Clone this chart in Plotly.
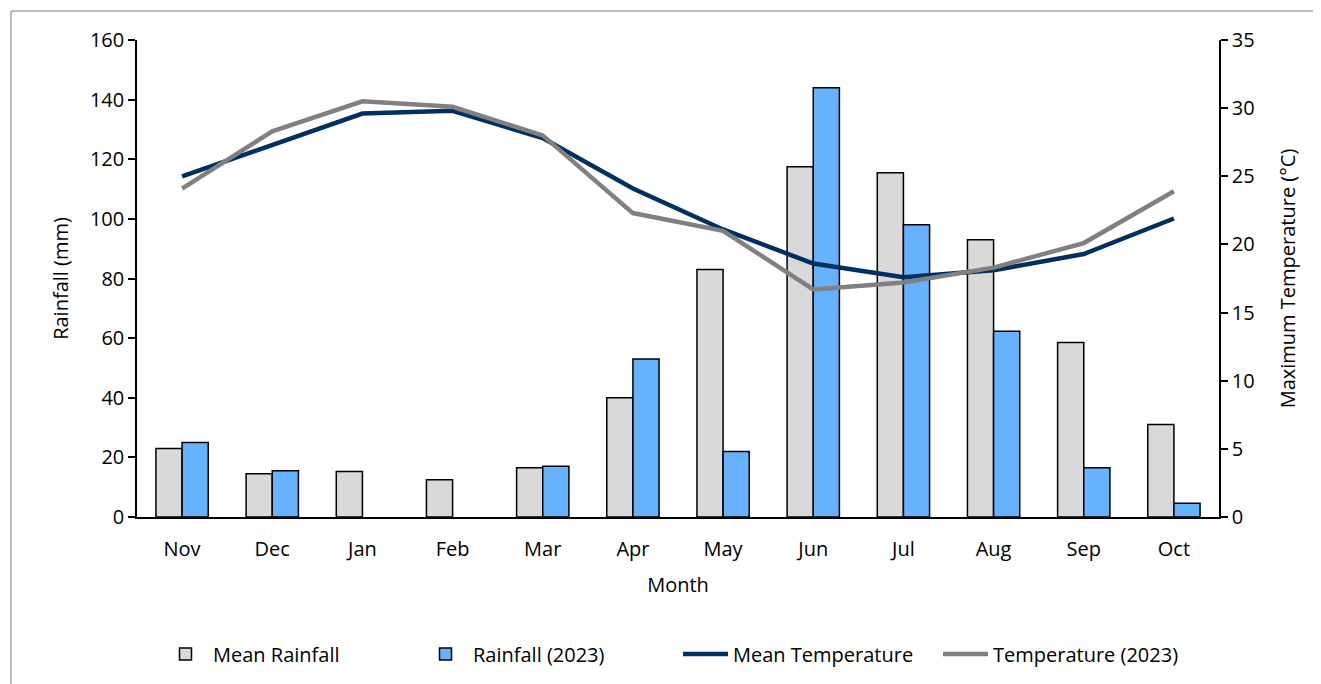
import plotly.graph_objects as go

months = ["Nov", "Dec", "Jan", "Feb", "Mar", "Apr", "May", "Jun", "Jul", "Aug", "Sep", "Oct"]
mean_rainfall = [23, 14.5, 15.3, 12.5, 16.5, 40, 83, 117.5, 115.5, 93, 58.5, 31]
rainfall_2023 = [25, 15.5, None, None, 17, 53, 22, 144, 98, 62.3, 16.5, 4.6]
mean_temp = [25.0, 27.3, 29.6, 29.8, 27.8, 24.1, 21.1, 18.6, 17.6, 18.1, 19.3, 21.9]
temp_2023 = [24.1, 28.3, 30.5, 30.1, 28.0, 22.3, 21.0, 16.7, 17.2, 18.3, 20.1, 23.9]

FONT = "Open Sans"
FS = 20

fig = go.Figure()
fig.add_trace(go.Bar(x=months, y=mean_rainfall, name="Mean Rainfall",
                     marker=dict(color="#D9D9D9", line=dict(color="black", width=1.5))))
fig.add_trace(go.Bar(x=months, y=rainfall_2023, name="Rainfall (2023)",
                     marker=dict(color="#66B2FF", line=dict(color="black", width=1.5))))
fig.add_trace(go.Scatter(x=months, y=mean_temp, name="Mean Temperature", yaxis="y2",
                         mode="lines", line=dict(color="#00305F", width=4.5)))
fig.add_trace(go.Scatter(x=months, y=temp_2023, name="Temperature (2023)", yaxis="y2",
                         mode="lines", line=dict(color="#808080", width=4.5)))

OFF = 8  # page body offset
W, H = 1321 - OFF, 684 - OFF
L, R, T, B = 137 - OFF, 1219 - OFF, 40 - OFF, 517 - OFF
pw, ph = R - L, B - T

def px(x):
    return (x - OFF - L) / pw

def py(y):
    return (B - (y - OFF)) / ph

title_font = dict(family=FONT, size=FS, color="black")

fig.update_layout(
    width=W, height=H,
    margin=dict(l=L, r=W - R, t=T, b=H - B, autoexpand=False),
    paper_bgcolor="white", plot_bgcolor="white",
    font=dict(family=FONT, size=FS, color="black"),
    barmode="group", bargap=0.42, bargroupgap=0,
    showlegend=True,
    legend=dict(orientation="h", x=0.5, xanchor="center", y=py(654), yanchor="middle",
                font=dict(size=FS), itemwidth=45, tracegroupgap=0,
                entrywidth=200, entrywidthmode="pixels"),
    xaxis=dict(showline=True, linecolor="black", linewidth=1.5, ticks="outside", ticklen=13,
               tickcolor="rgba(0,0,0,0)", showgrid=False,
               title=dict(text="Month", standoff=17, font=title_font), tickfont=dict(size=FS)),
    yaxis=dict(range=[0, 160], dtick=20, showline=True, linecolor="black", linewidth=1.5,
               ticks="outside", ticklen=7, tickwidth=1.5, tickcolor="black", showgrid=False,
               zeroline=False, title=dict(text="Rainfall (mm)", standoff=16, font=title_font),
               tickfont=dict(size=FS)),
    yaxis2=dict(range=[0, 35], dtick=5, overlaying="y", side="right", showline=True,
                linecolor="black", linewidth=1.5, ticks="outside", ticklen=7, tickwidth=1.5,
                tickcolor="black", showgrid=False, zeroline=False,
                title=dict(text="Maximum Temperature (°C)", standoff=27, font=title_font),
                tickfont=dict(size=FS)),
    shapes=[
        dict(type="line", xref="paper", yref="paper", x0=px(11), x1=px(1340), y0=py(11), y1=py(11),
             line=dict(color="#A6A6A6", width=1.5)),
        dict(type="line", xref="paper", yref="paper", x0=px(11), x1=px(11), y0=py(11), y1=py(720),
             line=dict(color="#A6A6A6", width=1.5)),
    ],
)

fig.write_html("out.html")
